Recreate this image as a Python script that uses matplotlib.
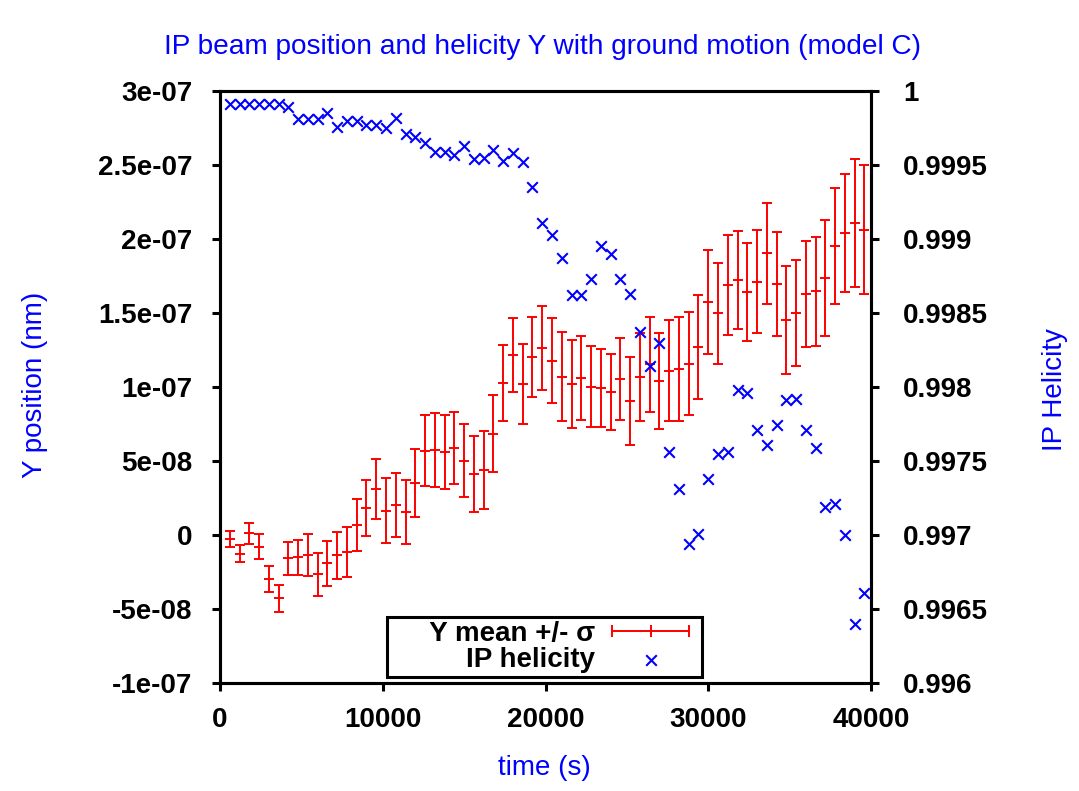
import matplotlib
matplotlib.use("Agg")
import matplotlib.pyplot as plt
from matplotlib.lines import Line2D

# time stamps (s)
time_s = [600, 1200, 1800, 2400, 3000, 3600, 4200, 4800, 5400, 6000,
          6600, 7200, 7800, 8400, 9000, 9600, 10200, 10800, 11400, 12000,
          12600, 13200, 13800, 14400, 15000, 15600, 16200, 16800, 17400, 18000,
          18600, 19200, 19800, 20400, 21000, 21600, 22200, 22800, 23400, 24000,
          24600, 25200, 25800, 26400, 27000, 27600, 28200, 28800, 29400, 30000,
          30600, 31200, 31800, 32400, 33000, 33600, 34200, 34800, 35400, 36000,
          36600, 37200, 37800, 38400, 39000, 39600]

# Y mean position, units of 1e-8
y_mean = [-0.25, -1.26, 0.11, -0.79, -3.00, -4.28, -1.57, -1.49, -1.37, -2.66,
          -1.91, -1.37, -1.13, 0.65, 1.84, 3.09, 1.64, 2.05, 1.55, 3.51,
          5.68, 5.72, 5.60, 5.88, 5.02, 4.14, 4.39, 6.84, 10.27, 12.16,
          10.22, 12.03, 12.61, 11.76, 10.70, 10.20, 10.59, 10.02, 9.95, 9.66,
          10.54, 9.07, 10.68, 11.53, 10.43, 11.10, 11.24, 11.57, 12.70, 15.74,
          14.98, 16.87, 17.23, 16.44, 17.12, 19.03, 16.96, 14.51, 14.98, 16.28,
          16.47, 17.36, 19.53, 20.39, 21.06, 20.63]

# sigma, units of 1e-8
y_sigma = [0.54, 0.56, 0.71, 0.84, 0.88, 0.89, 1.10, 1.18, 1.42, 1.46,
           1.52, 1.60, 1.69, 1.76, 1.91, 2.03, 2.20, 2.16, 2.14, 2.28,
           2.40, 2.50, 2.50, 2.44, 2.47, 2.58, 2.66, 2.59, 2.55, 2.52,
           2.69, 2.70, 2.84, 2.87, 3.03, 3.00, 2.83, 2.73, 2.65, 2.58,
           2.80, 2.97, 2.95, 3.23, 3.24, 3.41, 3.51, 3.48, 3.49, 3.51,
           3.43, 3.39, 3.32, 3.31, 3.47, 3.43, 3.53, 3.65, 3.58, 3.60,
           3.69, 3.90, 3.89, 4.00, 4.32, 4.34]

helicity = [0.99991, 0.99991, 0.99991, 0.99991, 0.99991, 0.99991, 0.99989, 0.99981, 0.99981, 0.99981,
            0.99985, 0.99976, 0.99980, 0.99980, 0.99977, 0.99977, 0.99975, 0.99982, 0.99971, 0.99969,
            0.99965, 0.99959, 0.99959, 0.99957, 0.99963, 0.99954, 0.99955, 0.99960, 0.99953, 0.99958,
            0.99952, 0.99935, 0.99911, 0.99903, 0.99887, 0.99862, 0.99862, 0.99873, 0.99895, 0.99890,
            0.99873, 0.99863, 0.99837, 0.99814, 0.99830, 0.99756, 0.99731, 0.99694, 0.99701, 0.99738,
            0.99755, 0.99756, 0.99798, 0.99796, 0.99771, 0.99761, 0.99774, 0.99791, 0.99792, 0.99771,
            0.99759, 0.99719, 0.99721, 0.99700, 0.99640, 0.99661]

x_ticks = [0, 10000, 20000, 30000, 40000]
y_ticks = [-1e-07, -5e-08, 0, 5e-08, 1e-07, 1.5e-07, 2e-07, 2.5e-07, 3e-07]
y_tick_labels = ["-1e-07", "-5e-08", "0", "5e-08", "1e-07", "1.5e-07", "2e-07", "2.5e-07", "3e-07"]
h_ticks = [0.996, 0.9965, 0.997, 0.9975, 0.998, 0.9985, 0.999, 0.9995, 1.0]
h_tick_labels = ["0.996", "0.9965", "0.997", "0.9975", "0.998", "0.9985", "0.999", "0.9995", "1"]

plt.rcParams['font.family'] = ['Liberation Sans', 'DejaVu Sans']

W, H = 1079, 791
fig = plt.figure(figsize=(W / 100, H / 100), dpi=100)
ax = fig.add_axes([220 / W, 1 - 683 / H, 651 / W, 592 / H])
ax2 = ax.twinx()

ym = [v * 1e-8 for v in y_mean]
ys = [v * 1e-8 for v in y_sigma]
ax.errorbar(time_s, ym, yerr=ys, fmt='_', color='#ff0000', ecolor='#ff0000',
            elinewidth=1.4, capsize=3.6, capthick=1.4, markersize=7, mew=1.4)
ax2.scatter(time_s, helicity, marker='x', s=58, color='#0000ff', linewidths=1.5, zorder=3)

ax.set_xlim(0, 40000)
ax.set_ylim(-1e-07, 3e-07)
ax2.set_ylim(0.996, 1.0)
ax.set_xticks(x_ticks)
ax.set_xticklabels([str(t) for t in x_ticks])
ax.set_yticks(y_ticks)
ax.set_yticklabels(y_tick_labels)
ax2.set_yticks(h_ticks)
ax2.set_yticklabels(h_tick_labels)

for a in (ax, ax2):
    for s in a.spines.values():
        s.set_linewidth(2.2)
    a.tick_params(direction='out', length=6, width=2.2, labelsize=20)
    for lab in a.get_xticklabels() + a.get_yticklabels():
        lab.set_fontweight('bold')
ax.tick_params(axis='x', top=False, pad=11)
ax.tick_params(axis='y', right=False, pad=14)
ax2.tick_params(axis='y', pad=17)

ax.set_xlabel("time (s)", color='#0000ff', fontsize=20)
ax.set_ylabel("Y position (nm)", color='#0000ff', fontsize=20)
ax2.set_ylabel("IP Helicity", color='#0000ff', fontsize=20)
ax.xaxis.set_label_coords(0.499, -0.1436)
ax.xaxis.label.set_va('center')
ax.yaxis.set_label_coords(-0.284, 0.503)
ax.yaxis.label.set_va('center')
ax2.yaxis.set_label_coords(1.283, 0.495)
ax2.yaxis.label.set_va('center')
ax2.yaxis.label.set_rotation(90)

fig.text(0.503, 1 - 47 / H, "IP beam position and helicity Y with ground motion (model C)",
         color='#0000ff', fontsize=20.2, ha='center', va='center')

# legend in gnuplot style: right-aligned labels, sample on the right
err_handle = Line2D([], [], color='#ff0000', lw=1.4, marker='|', markersize=9, mew=1.4)
hel_handle = ax2.collections[0]
leg = ax2.legend([err_handle, hel_handle], ["     Y mean +/- σ", "IP helicity"],
                 loc='center', bbox_to_anchor=(0.5046, 0.182), bbox_transform=fig.transFigure,
                 numpoints=3, scatterpoints=1, markerfirst=False, fancybox=False,
                 framealpha=1, edgecolor='black', handlelength=3.37, handletextpad=0.31,
                 labelspacing=0.0, borderpad=0.15, borderaxespad=0,
                 prop={'weight': 'bold', 'size': 20})
leg.get_frame().set_linewidth(2.2)

fig.savefig("out.png", dpi=100)
